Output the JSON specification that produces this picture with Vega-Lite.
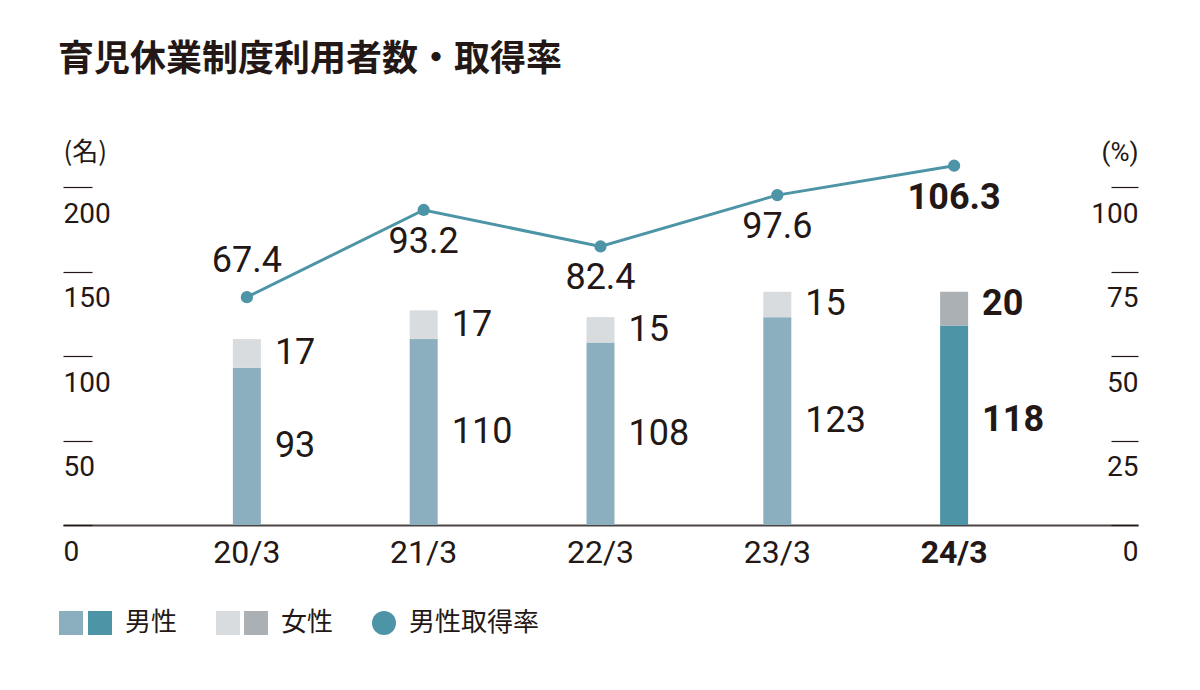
{
  "$schema": "https://vega.github.io/schema/vega-lite/v6.json",
  "width": 1075,
  "height": 338,
  "autosize": {"type": "none"},
  "padding": {"left": 63, "top": 187, "right": 62, "bottom": 165},
  "background": "white",
  "config": {
    "view": {"stroke": null},
    "font": "Roboto",
    "legend": {"orient": "none", "padding": 0, "offset": 0, "symbolSize": 576, "symbolType": "square", "symbolStrokeWidth": 0, "labelFont": "Noto Sans CJK JP", "labelFontSize": 26, "labelColor": "#231815", "labelOffset": 12, "labelLimit": 400, "direction": "horizontal"}
  },
  "title": {"text": "育児休業制度利用者数・取得率", "anchor": "start", "font": "Noto Sans CJK JP", "fontSize": 36, "fontWeight": "bold", "color": "#231815", "offset": 60},
  "datasets": {
    "people": [
      {"year": "20/3", "sex": "男性", "cls": "男性", "n": 93},
      {"year": "20/3", "sex": "女性", "cls": "女性", "n": 17},
      {"year": "21/3", "sex": "男性", "cls": "男性", "n": 110},
      {"year": "21/3", "sex": "女性", "cls": "女性", "n": 17},
      {"year": "22/3", "sex": "男性", "cls": "男性", "n": 108},
      {"year": "22/3", "sex": "女性", "cls": "女性", "n": 15},
      {"year": "23/3", "sex": "男性", "cls": "男性", "n": 123},
      {"year": "23/3", "sex": "女性", "cls": "女性", "n": 15},
      {"year": "24/3", "sex": "男性", "cls": "男性(24/3)", "n": 118},
      {"year": "24/3", "sex": "女性", "cls": "女性(24/3)", "n": 20}
    ],
    "rate": [
      {"year": "20/3", "series": "男性取得率", "rate": 67.4},
      {"year": "21/3", "series": "男性取得率", "rate": 93.2},
      {"year": "22/3", "series": "男性取得率", "rate": 82.4},
      {"year": "23/3", "series": "男性取得率", "rate": 97.6},
      {"year": "24/3", "series": "男性取得率", "rate": 106.3}
    ]
  },
  "layer": [
    {
      "data": {"name": "people"},
      "transform": [
        {"stack": "n", "groupby": ["year"], "sort": [{"field": "sex", "order": "descending"}], "as": ["y0", "y1"]},
        {"filter": "datum.sex === '男性' && datum.year !== '24/3'"}
      ],
      "mark": {"type": "bar", "width": 28},
      "encoding": {
        "x": {"field": "year", "type": "nominal", "sort": null, "scale": {"paddingInner": 0, "paddingOuter": 0.54},
          "axis": {"title": null, "orient": "bottom", "domain": true, "domainColor": "#4a4543", "domainWidth": 2, "ticks": false, "labelFont": "Roboto", "labelFontSize": 32, "labelColor": "#231815", "labelPadding": 12, "labelAngle": 0,
            "labelFontWeight": {"condition": {"test": "datum.value === '24/3'", "value": "bold"}, "value": "normal"}}},
        "y": {"field": "y1", "type": "quantitative", "scale": {"domain": [0, 200], "nice": false},
          "axis": {"title": "(名)", "orient": "left", "offset": -29, "domain": false, "grid": false, "ticks": true, "tickSize": 29, "tickColor": "#231815", "tickWidth": 1.2, "values": [0, 50, 100, 150, 200], "labelAlign": "left", "labelBaseline": "middle", "labelPadding": 0, "labelOffset": 27, "labelFlush": false, "labelOverlap": false, "labelFont": "Roboto", "labelFontSize": 28, "labelColor": "#231815", "titleAngle": 0, "titleAlign": "left", "titleBaseline": "middle", "titleX": -29, "titleY": -35, "titleFont": "Noto Sans CJK JP", "titleFontSize": 26, "titleFontWeight": "normal", "titleColor": "#231815"}},
        "y2": {"field": "y0"},
        "color": {"field": "cls", "type": "nominal", "scale": {"range": ["#8cafbf"]},
          "legend": {"title": null, "legendX": -5, "legendY": 423, "labelExpr": "''"}}
      }
    },
    {
      "data": {"name": "people"},
      "transform": [
        {"stack": "n", "groupby": ["year"], "sort": [{"field": "sex", "order": "descending"}], "as": ["y0", "y1"]},
        {"filter": "datum.sex === '男性' && datum.year === '24/3'"}
      ],
      "mark": {"type": "bar", "width": 28},
      "encoding": {
        "x": {"field": "year", "type": "nominal", "sort": null},
        "y": {"field": "y1", "type": "quantitative", "scale": {"domain": [0, 200], "nice": false}, "axis": null},
        "y2": {"field": "y0"},
        "color": {"field": "cls", "type": "nominal", "scale": {"range": ["#4d94a7"]},
          "legend": {"title": null, "legendX": 24, "legendY": 423, "labelExpr": "'男性'"}}
      }
    },
    {
      "data": {"name": "people"},
      "transform": [
        {"stack": "n", "groupby": ["year"], "sort": [{"field": "sex", "order": "descending"}], "as": ["y0", "y1"]},
        {"filter": "datum.sex === '女性' && datum.year !== '24/3'"}
      ],
      "mark": {"type": "bar", "width": 28},
      "encoding": {
        "x": {"field": "year", "type": "nominal", "sort": null},
        "y": {"field": "y1", "type": "quantitative", "scale": {"domain": [0, 200], "nice": false}, "axis": null},
        "y2": {"field": "y0"},
        "color": {"field": "cls", "type": "nominal", "scale": {"range": ["#d8dcdf"]},
          "legend": {"title": null, "legendX": 152, "legendY": 423, "labelExpr": "''"}}
      }
    },
    {
      "data": {"name": "people"},
      "transform": [
        {"stack": "n", "groupby": ["year"], "sort": [{"field": "sex", "order": "descending"}], "as": ["y0", "y1"]},
        {"filter": "datum.sex === '女性' && datum.year === '24/3'"}
      ],
      "mark": {"type": "bar", "width": 28},
      "encoding": {
        "x": {"field": "year", "type": "nominal", "sort": null},
        "y": {"field": "y1", "type": "quantitative", "scale": {"domain": [0, 200], "nice": false}, "axis": null},
        "y2": {"field": "y0"},
        "color": {"field": "cls", "type": "nominal", "scale": {"range": ["#abb0b4"]},
          "legend": {"title": null, "legendX": 180, "legendY": 423, "labelExpr": "'女性'"}}
      }
    },
    {
      "data": {"name": "people"},
      "transform": [
        {"stack": "n", "groupby": ["year"], "sort": [{"field": "sex", "order": "descending"}], "as": ["y0", "y1"]},
        {"calculate": "(datum.y0 + datum.y1) / 2", "as": "mid"},
        {"filter": "datum.year !== '24/3'"}
      ],
      "mark": {"type": "text", "align": "left", "baseline": "middle", "dx": 28, "fontSize": 36, "font": "Roboto", "color": "#231815"},
      "encoding": {
        "x": {"field": "year", "type": "nominal", "sort": null},
        "y": {"field": "mid", "type": "quantitative", "scale": {"domain": [0, 200], "nice": false}, "axis": null},
        "text": {"field": "n"}
      }
    },
    {
      "data": {"name": "people"},
      "transform": [
        {"stack": "n", "groupby": ["year"], "sort": [{"field": "sex", "order": "descending"}], "as": ["y0", "y1"]},
        {"calculate": "(datum.y0 + datum.y1) / 2", "as": "mid"},
        {"filter": "datum.year === '24/3'"}
      ],
      "mark": {"type": "text", "align": "left", "baseline": "middle", "dx": 28, "dy": -5, "fontSize": 36, "font": "Roboto", "fontWeight": "bold", "color": "#231815"},
      "encoding": {
        "x": {"field": "year", "type": "nominal", "sort": null},
        "y": {"field": "mid", "type": "quantitative", "scale": {"domain": [0, 200], "nice": false}, "axis": null},
        "text": {"field": "n"}
      }
    },
    {
      "data": {"name": "rate"},
      "mark": {"type": "line", "strokeWidth": 3, "point": {"filled": true, "size": 150}},
      "encoding": {
        "x": {"field": "year", "type": "nominal", "sort": null},
        "y": {"field": "rate", "type": "quantitative", "scale": {"domain": [0, 100], "nice": false},
          "axis": {"title": "(%)", "orient": "right", "offset": -27, "domain": false, "grid": false, "ticks": true, "tickSize": 27, "tickColor": "#231815", "tickWidth": 1.2, "values": [0, 25, 50, 75, 100], "labelAlign": "right", "labelBaseline": "middle", "labelPadding": 0, "labelOffset": 27, "labelFlush": false, "labelOverlap": false, "labelFont": "Roboto", "labelFontSize": 28, "labelColor": "#231815", "titleAngle": 0, "titleAlign": "right", "titleBaseline": "middle", "titleX": 27, "titleY": -35, "titleFont": "Roboto", "titleFontSize": 26, "titleFontWeight": "normal", "titleColor": "#231815"}},
        "color": {"field": "series", "type": "nominal", "scale": {"range": ["#4d94a7"]},
          "legend": {"title": null, "legendX": 308, "legendY": 423, "symbolType": "circle",
            "encode": {"symbols": {"update": {"fill": {"value": "#4d94a7"}, "stroke": {"value": "transparent"}, "strokeWidth": {"value": 0}, "opacity": {"value": 1}, "size": {"value": 576}, "shape": {"value": "circle"}}}}}}
      }
    },
    {
      "data": {"name": "rate"},
      "transform": [{"filter": "datum.year === '20/3'"}],
      "mark": {"type": "text", "align": "center", "baseline": "middle", "dy": -36, "fontSize": 36, "font": "Roboto", "color": "#231815"},
      "encoding": {
        "x": {"field": "year", "type": "nominal", "sort": null},
        "y": {"field": "rate", "type": "quantitative", "scale": {"domain": [0, 100], "nice": false}, "axis": null},
        "text": {"field": "rate", "format": ".1f"}
      }
    },
    {
      "data": {"name": "rate"},
      "transform": [{"filter": "datum.year !== '20/3' && datum.year !== '24/3'"}],
      "mark": {"type": "text", "align": "center", "baseline": "middle", "dy": 32, "fontSize": 36, "font": "Roboto", "color": "#231815"},
      "encoding": {
        "x": {"field": "year", "type": "nominal", "sort": null},
        "y": {"field": "rate", "type": "quantitative", "scale": {"domain": [0, 100], "nice": false}, "axis": null},
        "text": {"field": "rate", "format": ".1f"}
      }
    },
    {
      "data": {"name": "rate"},
      "transform": [{"filter": "datum.year === '24/3'"}],
      "mark": {"type": "text", "align": "center", "baseline": "middle", "dy": 32, "fontSize": 36, "font": "Roboto", "fontWeight": "bold", "color": "#231815"},
      "encoding": {
        "x": {"field": "year", "type": "nominal", "sort": null},
        "y": {"field": "rate", "type": "quantitative", "scale": {"domain": [0, 100], "nice": false}, "axis": null},
        "text": {"field": "rate", "format": ".1f"}
      }
    }
  ],
  "resolve": {"scale": {"y": "independent", "color": "independent"}, "axis": {"y": "independent"}, "legend": {"color": "independent"}}
}
